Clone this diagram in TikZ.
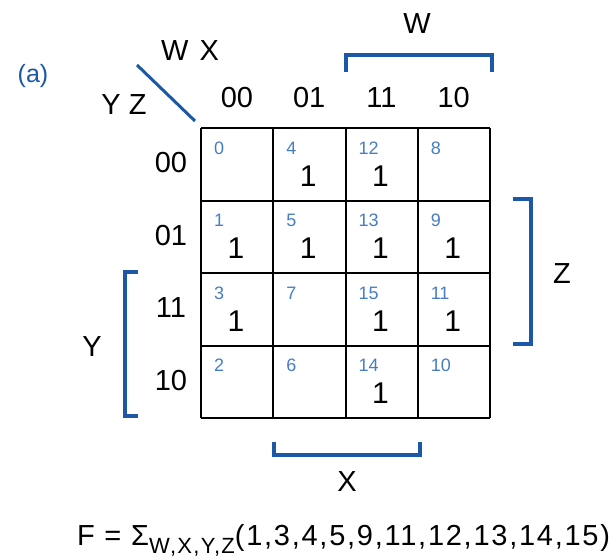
\documentclass[tikz,border=0pt]{standalone}
\usepackage{fontspec}
\setmainfont{Liberation Sans}
\usetikzlibrary{positioning}
\definecolor{kblue}{RGB}{28,88,165}
\definecolor{nblue}{RGB}{70,125,195}

\begin{document}
\begin{tikzpicture}
          [x=1pt,y=-1pt,line width=2pt,
           lbl/.style={font=\fontsize{29}{31}\selectfont,inner sep=0pt},
           one/.style={font=\fontsize{30}{32}\selectfont,inner sep=0pt},
           idx/.style={font=\fontsize{18}{20}\selectfont,text=nblue,anchor=west,inner sep=0pt},
           bar/.style={draw=kblue,line width=4pt}]
          \useasboundingbox (0,0) rectangle (616,558);

          % grid of cells
          \foreach \i in {0,...,4} {
            \draw (201+72.25*\i,128) -- (201+72.25*\i,418);
            \draw (201,128+72.5*\i) -- (490,128+72.5*\i);
          }
          \foreach \c/\wx in {0/0,1/4,2/12,3/8}
            \foreach \r/\yz in {0/0,1/1,2/3,3/2} {
              \pgfmathtruncatemacro\m{\wx+\yz}
              \node[idx] (n\m) at (201+72.25*\c+12,128+72.5*\r+20) {\m};
            }
          \foreach \c/\r in {1/0,2/0,0/1,1/1,2/1,3/1,0/2,2/2,3/2,2/3}
            \node[one] (v\c\r) at (236+72.25*\c,176+72.5*\r) {1};

          % headings
          \node[lbl,text=kblue,font=\fontsize{25}{27}\selectfont] (a) at (33,76) {(a)};
          \node[lbl] (wx) at (190,51) {W\hspace{11pt}X};
          \node[lbl] (yz) at (124,105) {Y Z};
          \draw[draw=kblue,line width=3pt] (137,65) -- (195,121);
          \foreach \t [count=\k from 0] in {00,01,11,10} {
            \node[lbl] (c\k) at (237+72.25*\k,98) {\t};
            \node[lbl] (r\k) at (171,163+72.5*\k) {\t};
          }

          % variable brackets
          \draw[bar] (346,72) -- (346,55) -- (492,55) -- (492,72);
          \node[lbl] (w) at (417,24) {W};
          \draw[bar] (513,199) -- (531,199) -- (531,344) -- (513,344);
          \node[lbl] (z) at (562,274) {Z};
          \draw[bar] (138,272) -- (125,272) -- (125,416) -- (138,416);
          \node[lbl] (y) at (92,347) {Y};
          \draw[bar] (274,442) -- (274,455) -- (420,455) -- (420,442);
          \node[lbl] (x) at (347,482) {X};

          \node[anchor=base west,inner sep=0pt,font=\fontsize{29}{31}\selectfont\addfontfeature{LetterSpace=6}] (f) at (76,545)
            {F = \char"03A3\raisebox{-0.3em}{\fontsize{22}{24}\selectfont\addfontfeature{LetterSpace=6}W,X,Y,Z}(1,3,4,5,9,11,12,13,14,15)};
        \end{tikzpicture}
\end{document}
